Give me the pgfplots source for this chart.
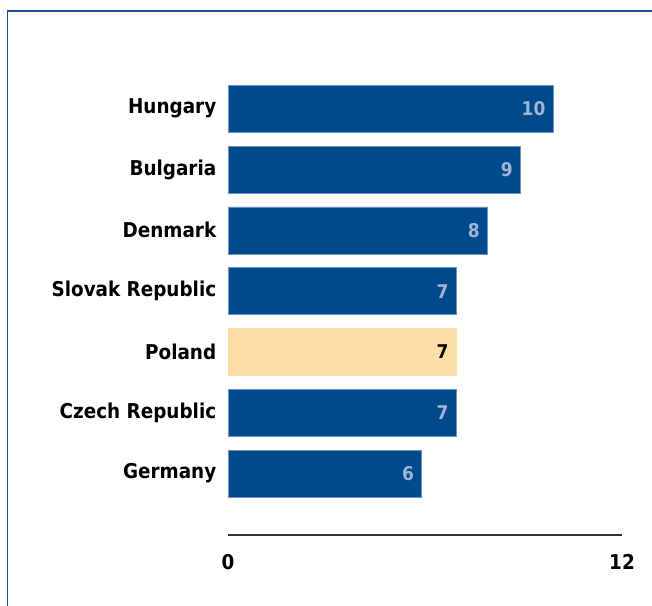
\documentclass[border=0pt]{standalone}
\usepackage{pgfplots}
\usepackage{pgfplotstable}
\pgfplotsset{compat=1.18}
\usepackage{fontspec}
\setmainfont{DejaVu Sans Condensed}[BoldFont={DejaVu Sans Condensed Bold}]
\definecolor{barblue}{RGB}{0,75,141}
\definecolor{baredge}{RGB}{110,145,190}
\definecolor{barpeach}{RGB}{255,222,168}
\definecolor{lblblue}{RGB}{160,180,212}
\definecolor{frameblue}{RGB}{28,78,148}

% value, position (0 = bottom), printed label
\pgfplotstableread{
x    y lab
9.9  6 10
8.9  5 9
7.9  4 8
6.95 3 7
6.95 1 7
5.9  0 6
}\blues
\pgfplotstableread{
x    y lab
6.95 2 7
}\poland

\begin{document}
\begin{tikzpicture}
\useasboundingbox (0bp,0bp) rectangle (652bp,606bp);
\draw[frameblue, line width=1.8bp] (7.5bp,0bp) -- (7.5bp,595bp) -- (652bp,595bp);
\begin{axis}[
    at={(228bp,71bp)}, anchor=south west,
    scale only axis,
    width=394bp, height=481bp,
    xmin=0, xmax=12, ymin=-1.01, ymax=6.9,
    xbar, bar width=47bp, bar shift=0pt,
    axis lines*=left,
    y axis line style={draw=none},
    x axis line style={line width=1.6bp, color=black!80},
    tick style={draw=none},
    xtick={0,12},
    ytick={0,...,6},
    yticklabels={Germany,Czech Republic,Poland,Slovak Republic,Denmark,Bulgaria,Hungary},
    /pgf/number format/assume math mode=true,
    ticklabel style={font=\fontsize{20.5}{24}\selectfont\bfseries, text=black},
    yticklabel style={xshift=-4bp},
    xticklabel style={yshift=-16bp},
    point meta=explicit symbolic,
    nodes near coords,
    nodes near coords style={anchor=east, xshift=-4bp, font=\fontsize{19}{22}\selectfont\bfseries},
    clip=false,
]
\addplot[fill=barblue, draw=baredge, line width=0.6bp,
    nodes near coords style={text=lblblue}]
    table[x=x, y=y, meta=lab] {\blues};
\addplot[fill=barpeach, draw=barpeach, line width=0.6bp,
    nodes near coords style={text=black}]
    table[x=x, y=y, meta=lab] {\poland};
\end{axis}
\end{tikzpicture}
\end{document}
